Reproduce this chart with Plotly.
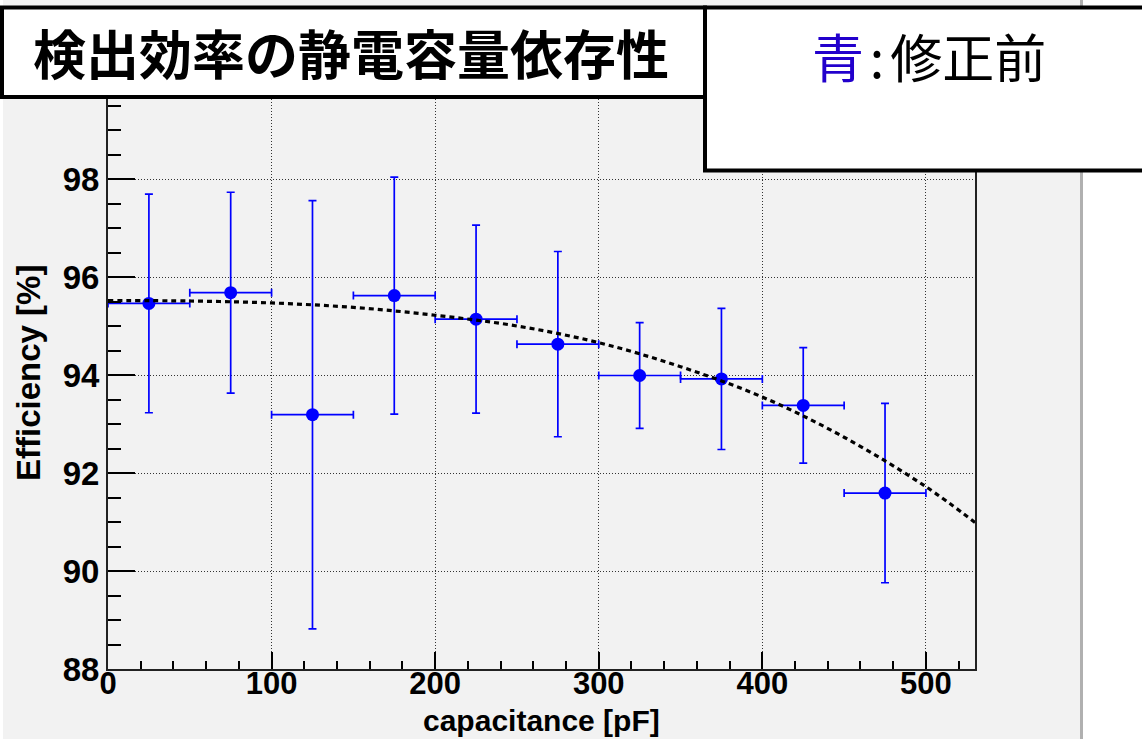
import plotly.graph_objects as go

# Detection efficiency vs. strip capacitance (before correction)
cap_pf = [25, 75, 125, 175, 225, 275, 325, 375, 425, 475]
cap_halfwidth = [25, 25, 25, 25, 25, 25, 25, 25, 25, 25]
efficiency = [95.46, 95.68, 93.19, 95.62, 95.14, 94.63, 93.99, 93.92, 93.38, 91.59]
efficiency_err = [2.23, 2.05, 4.37, 2.42, 1.92, 1.89, 1.08, 1.44, 1.18, 1.83]

# Fitted trend curve, sampled along the capacitance range
fit_cap = [0, 50, 100, 150, 200, 250, 300, 350, 400, 450, 500, 530]
fit_eff = [95.52, 95.51, 95.47, 95.38, 95.22, 95.00, 94.66, 94.17, 93.55, 92.73, 91.72, 90.99]

x_ticks = [0, 100, 200, 300, 400, 500]
y_ticks = [88, 90, 92, 94, 96, 98]

W, H = 1142, 739
L, R, T, B = 108, 167, 81, 70
PW, PH = W - L - R, H - T - B


def px_x(px):
    return (px - L) / PW


def px_y(py):
    return (H - B - py) / PH


BLUE = "#0000ff"
num_font = "Liberation Sans, Arial, sans-serif"
cjk_font = "Noto Sans CJK JP, sans-serif"

fig = go.Figure()

fig.add_trace(go.Scatter(
    x=cap_pf, y=efficiency, mode="markers",
    marker=dict(color=BLUE, size=13),
    error_x=dict(type="data", array=cap_halfwidth, color=BLUE, thickness=1.7, width=4),
    error_y=dict(type="data", array=efficiency_err, color=BLUE, thickness=1.7, width=4),
    showlegend=False,
))

fig.add_trace(go.Scatter(
    x=fit_cap, y=fit_eff, mode="lines",
    line=dict(color="black", width=3.2, dash="5px,4px", shape="spline"),
    showlegend=False,
))

axis_common = dict(
    showline=True, linecolor="#222", linewidth=2, mirror=True,
    ticks="inside", tickcolor="black", tickwidth=2,
    showgrid=True, gridcolor="#333", gridwidth=1, griddash="1px,2px",
    zeroline=False,
)

tick_font = dict(family=num_font, size=33, color="black", weight="bold")

fig.update_xaxes(
    range=[0, 530], tickvals=x_ticks, ticklen=17, ticklabelstandoff=-14,
    tickfont=dict(tick_font, size=31),
    minor=dict(dtick=20, tick0=0, ticks="inside", ticklen=8, tickwidth=1.5,
               tickcolor="black", showgrid=False),
    **axis_common,
)
fig.update_yaxes(
    range=[88, 100], tickvals=y_ticks, ticklen=27,
    tickfont=tick_font,
    minor=dict(dtick=0.5, tick0=88, ticks="inside", ticklen=13, tickwidth=1.5,
               tickcolor="black", showgrid=False),
    **axis_common,
)

shapes = [
    # canvas background and its right edge
    dict(type="rect", xref="paper", yref="paper", layer="below",
         x0=px_x(3), x1=px_x(1080), y0=px_y(H + 5), y1=px_y(0),
         fillcolor="#f2f2f2", line=dict(width=0)),
    dict(type="rect", xref="paper", yref="paper", layer="below",
         x0=px_x(1080), x1=px_x(1083), y0=px_y(H + 5), y1=px_y(0),
         fillcolor="#b0b0b0", line=dict(width=0)),
    # title box
    dict(type="rect", xref="paper", yref="paper", layer="above",
         x0=px_x(2), x1=px_x(705), y0=px_y(97), y1=px_y(7.5),
         fillcolor="white", line=dict(color="black", width=4)),
    # note box
    dict(type="rect", xref="paper", yref="paper", layer="above",
         x0=px_x(705), x1=px_x(1175), y0=px_y(170.5), y1=px_y(7.5),
         fillcolor="white", line=dict(color="black", width=4)),
]

gap = '<span style="font-size:26px"> </span>'
annotations = [
    dict(text="検出効率の静電容量依存性", xref="paper", yref="paper",
         x=px_x(351), y=px_y(52), xanchor="center", yanchor="middle",
         showarrow=False,
         font=dict(family=cjk_font, size=53, color="black", weight="bold")),
    dict(text=f'<span style="color:#2200cc">青</span>{gap}:{gap}修正前',
         xref="paper", yref="paper",
         x=px_x(929), y=px_y(56), xanchor="center", yanchor="middle",
         showarrow=False,
         font=dict(family=cjk_font, size=52, color="black")),
    dict(text="capacitance [pF]", xref="paper", yref="paper",
         x=0.5, y=px_y(720.5), xanchor="center", yanchor="middle",
         showarrow=False,
         font=dict(family=num_font, size=30, color="black", weight="bold")),
    dict(text="Efficiency [%]", xref="paper", yref="paper",
         x=px_x(28), y=px_y(373), xanchor="center", yanchor="middle",
         textangle=-90, showarrow=False,
         font=dict(family=num_font, size=33, color="black", weight="bold")),
]

fig.update_layout(
    width=W, height=H,
    margin=dict(l=L, r=R, t=T, b=B),
    paper_bgcolor="white", plot_bgcolor="#f2f2f2",
    shapes=shapes, annotations=annotations,
    showlegend=False,
)

fig.write_html("out.html")
